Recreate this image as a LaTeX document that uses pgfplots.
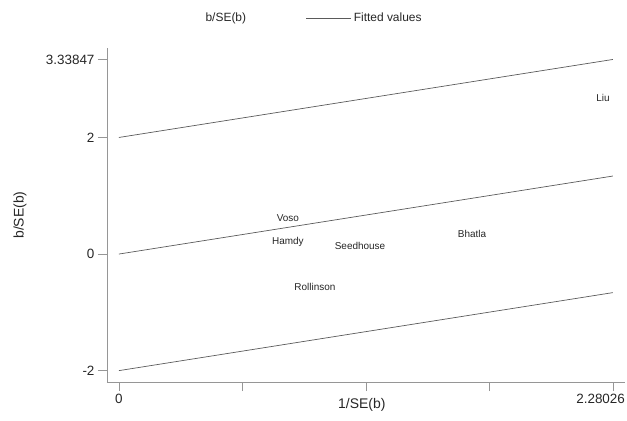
\documentclass[border=0pt]{standalone}
\usepackage{fontspec}
\setmainfont{Liberation Sans}
\usepackage{pgfplots}
\pgfplotsset{compat=1.18}
\usepackage{pgfplotstable}

\definecolor{axisgray}{RGB}{150,150,150}
\definecolor{fitgray}{RGB}{90,90,90}

% study labels placed at (1/SE, b/SE)
\pgfplotstableread{
x        y       label
0.780    0.617   Voso
0.780    0.206   Hamdy
1.113    0.137   Seedhouse
0.905   -0.566   Rollinson
1.630    0.343   Bhatla
2.234    2.676   Liu
}\studies

\begin{document}
\begin{tikzpicture}
\path[use as bounding box] (-107bp,-39bp) rectangle (520bp,382bp);
\begin{axis}[
  scale only axis,
  width=518bp, height=334bp,
  xmin=-0.055, xmax=2.336,
  ymin=-2.195, ymax=3.535,
  axis lines*=left,
  axis line style={axisgray, line width=0.7pt},
  every tick/.style={axisgray, line width=0.7pt},
  tick align=outside,
  major tick length=9bp,
  xtick={0,0.570065,1.14013,1.710195,2.28026},
  xticklabels={0,,,,\makebox[0pt][r]{2.28026\kern-12bp}},
  ytick={-2,0,2,3.33847},
  yticklabels={-2,0,2,3.33847},
  /pgf/number format/assume math mode=true,
  tick label style={font=\fontsize{13.5}{16}\selectfont, text=black!85},
  xlabel={1/SE(b)},
  ylabel={b/SE(b)},
  label style={font=\fontsize{14}{16}\selectfont, text=black!85},
  xlabel style={at={(axis description cs:0.492,-0.069)}, anchor=center},
  ylabel style={at={(axis description cs:-0.168,0.5)}, anchor=center},
  legend columns=2,
  legend style={draw=none, fill=none, at={(axis description cs:0.0927,1.0898)}, anchor=west,
    font=\fontsize{12}{14}\selectfont, text=black!85,
    /tikz/every even column/.append style={column sep=58bp}},
  legend image code/.code={\draw[#1] (0bp,0bp) -- (45bp,0bp);},
]
\addlegendimage{draw opacity=0}
\addlegendentry{b/SE(b)}
\addlegendimage{fitgray, line width=0.7pt}
\addlegendentry{Fitted values}

\addplot[fitgray, line width=0.7pt, forget plot] coordinates {(0,2) (2.28026,3.33847)};
\addplot[fitgray, line width=0.7pt, forget plot] coordinates {(0,0) (2.28026,1.33847)};
\addplot[fitgray, line width=0.7pt, forget plot] coordinates {(0,-2) (2.28026,-0.66153)};

\addplot[only marks, mark=none, forget plot,
  nodes near coords, point meta=explicit symbolic,
  nodes near coords style={anchor=center, font=\fontsize{10}{12}\selectfont, text=black!85}]
  table[x=x, y=y, meta=label] {\studies};
\end{axis}
\end{tikzpicture}
\end{document}
